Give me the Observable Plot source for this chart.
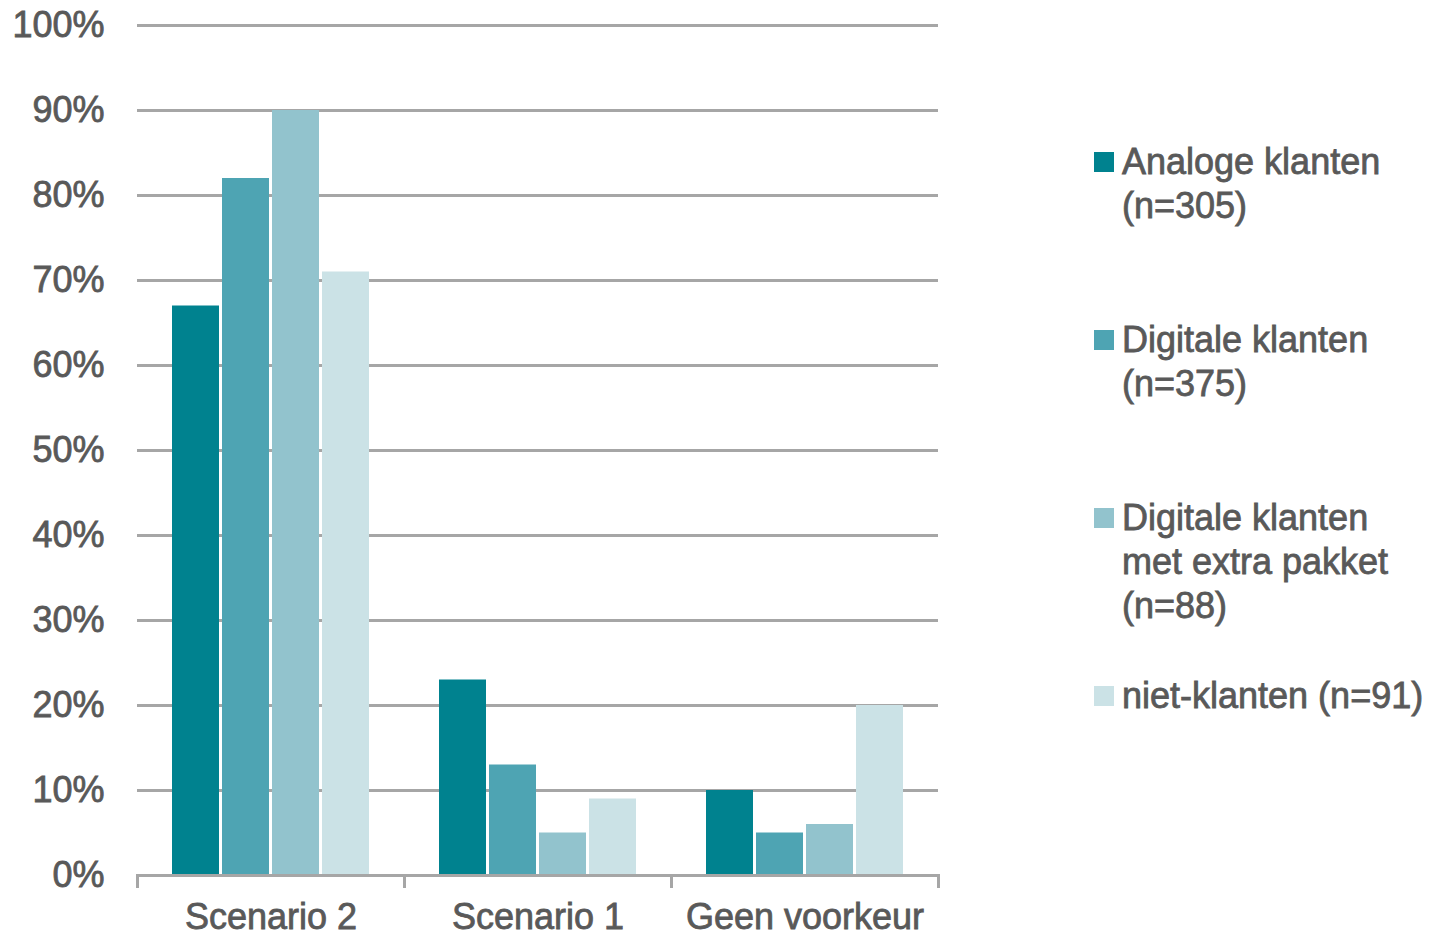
<!DOCTYPE html>
<html>
<head>
<meta charset="utf-8">
<script src="https://cdn.jsdelivr.net/npm/d3@7"></script>
<script src="https://cdn.jsdelivr.net/npm/@observablehq/plot@0.6"></script>
<style>
  html, body { margin: 0; padding: 0; background: #ffffff; }
  #wrap { position: relative; width: 1435px; height: 935px; font-family: "Liberation Sans", Arial, sans-serif; color: #595959; }
  #chart { position: absolute; left: 0; top: 0; }
  #chart svg text { stroke: #595959; stroke-width: 0.8px; }
  .item { position: absolute; left: 1094px; font-size: 36px; line-height: 44px; white-space: pre; display: flex; align-items: flex-start; -webkit-text-stroke: 0.8px #595959; }
  .sw { width: 20px; height: 20px; margin-top: 12px; margin-right: 8px; flex: none; }
</style>
</head>
<body>
<div id="wrap">
  <div id="chart"></div>
  <div id="legend"></div>
</div>
<script>
const categories = ["Scenario 2", "Scenario 1", "Geen voorkeur"];
const series = ["Analoge klanten (n=305)", "Digitale klanten (n=375)", "Digitale klanten met extra pakket (n=88)", "niet-klanten (n=91)"];
const legendLabels = ["Analoge klanten\n(n=305)", "Digitale klanten\n(n=375)", "Digitale klanten\nmet extra pakket\n(n=88)", "niet-klanten (n=91)"];
const analoge = [67, 23, 10];
const digitale = [82, 13, 5];
const extraPakket = [90, 5, 6];
const nietKlanten = [71, 9, 20];
const colors = ["#00828f", "#4ea4b3", "#92c3cd", "#cbe2e6"];
const yTicks = [0, 10, 20, 30, 40, 50, 60, 70, 80, 90, 100];

const valuesBySeries = [analoge, digitale, extraPakket, nietKlanten];
const data = [];
series.forEach((s, i) => categories.forEach((c, j) => data.push({series: s, category: c, value: valuesBySeries[i][j]})));

const gridColor = "#a6a6a6";
const plotHeight = 935, marginTop = 25, marginBottom = 49, tickLen = 11;

const chart = Plot.plot({
  width: 960,
  height: plotHeight,
  marginLeft: 136,
  marginRight: 22,
  marginTop: marginTop,
  marginBottom: marginBottom,
  style: {fontFamily: "'Liberation Sans', Arial, sans-serif", fontSize: "36px", color: "#595959", background: "#ffffff"},
  fx: {domain: categories, padding: 0, label: null, tickSize: 0, tickPadding: 17},
  x: {domain: series, paddingInner: 0.066, paddingOuter: 0.69, axis: null},
  y: {domain: [0, 100], insetBottom: tickLen, ticks: yTicks, tickFormat: d => d + "%", tickSize: 0, tickPadding: 33, label: null},
  color: {domain: series, range: colors},
  marks: [
    Plot.ruleY(yTicks.filter(d => d > 0), {stroke: gridColor, strokeWidth: 3}),
    Plot.barY(data, {fx: "category", x: "series", y: "value", fill: "series"}),
    Plot.ruleY([0], {stroke: gridColor, strokeWidth: 3}),
    Plot.frame({anchor: "left", insetTop: plotHeight - marginTop - marginBottom - tickLen, stroke: gridColor, strokeWidth: 3}),
    Plot.frame({anchor: "right", insetTop: plotHeight - marginTop - marginBottom - tickLen, stroke: gridColor, strokeWidth: 3})
  ]
});
document.getElementById("chart").appendChild(chart);

const legendTops = [140, 318, 496, 674];
const legend = document.getElementById("legend");
legendLabels.forEach((lab, i) => {
  const it = document.createElement("div");
  it.className = "item";
  it.style.top = legendTops[i] + "px";
  const sw = document.createElement("div");
  sw.className = "sw";
  sw.style.background = colors[i];
  const tx = document.createElement("div");
  tx.textContent = lab;
  it.appendChild(sw);
  it.appendChild(tx);
  legend.appendChild(it);
});
</script>
</body>
</html>
